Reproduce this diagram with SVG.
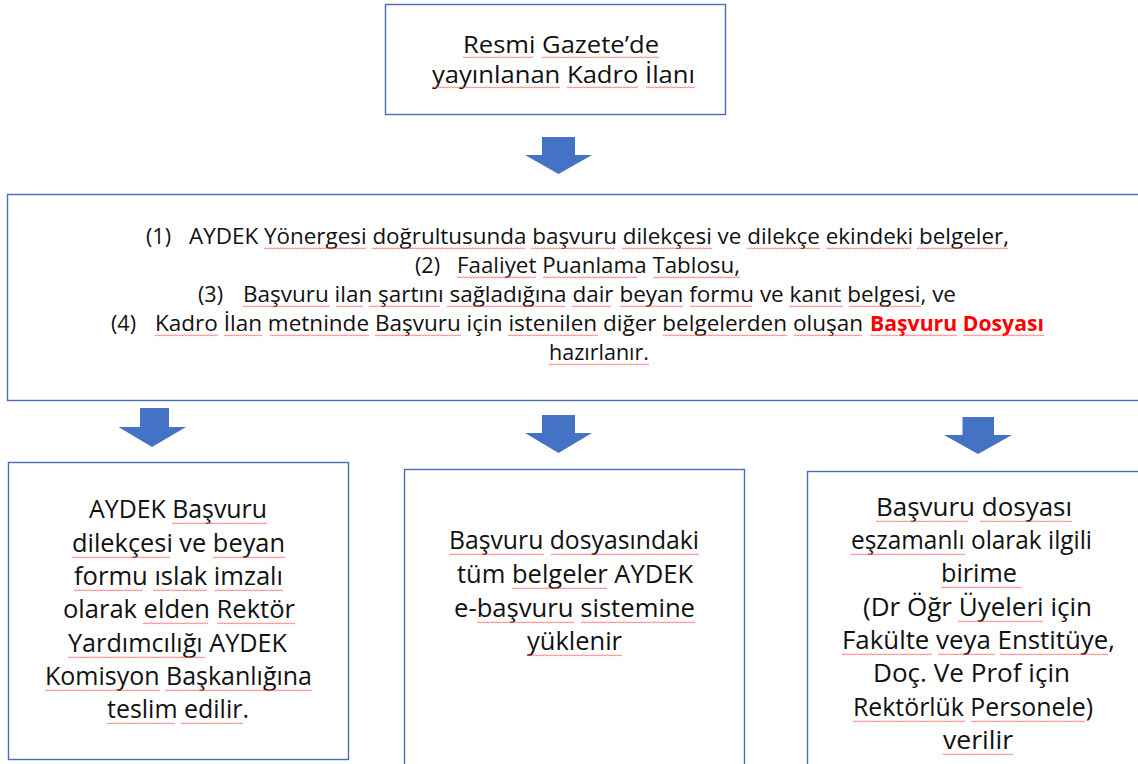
<svg xmlns="http://www.w3.org/2000/svg" width="1138" height="764" viewBox="0 0 1138 764">
<style>
.box{fill:#fff;stroke:#4a6db5;stroke-width:1.4}
.arr{fill:#4472c4}
text{font-family:"Open Sans","Noto Sans","Liberation Sans",sans-serif;fill:#111}
.m{font-size:21.5px}
.b{font-size:26px}
.t{font-size:24px}
.red{fill:#f00;font-weight:bold}
.sq rect{fill:url(#wave);height:3px}
</style>
<defs>
<pattern id="wave" width="3" height="3" patternUnits="userSpaceOnUse">
<path d="M0 2.3L1.5 0.7L3 2.3" fill="none" stroke="#ff5a5a" stroke-width="0.9"/>
</pattern>
</defs>
<rect width="1138" height="764" fill="#fff"/>
<g id="connectors">
<path class="arr" d="M542 137H575V155H592L558.5 174L525 155H542Z"/>
<path class="arr" d="M140 408H169V427H186L152 447L118.5 427H140Z"/>
<path class="arr" d="M542 415H575V433H592L558.5 453L525 433H542Z"/>
<path class="arr" d="M962.5 417H994V435H1012L978 454L944 435H962.5Z"/>
</g>
<g id="node-top">
<rect class="box" x="385.5" y="4.5" width="340" height="110"/>
<text class="t" x="463" y="53" textLength="196" lengthAdjust="spacingAndGlyphs">Resmi Gazete’de</text>
<text class="t" x="432" y="83" textLength="263" lengthAdjust="spacingAndGlyphs">yayınlanan Kadro İlanı</text>
<g class="sq" transform="translate(0,56)"><rect x="463" width="70"/><rect x="542" width="117"/></g>
<g class="sq" transform="translate(0,86)"><rect x="432" width="128"/><rect x="567" width="71"/><rect x="646" width="49"/></g>
</g>
<g id="node-main">
<rect class="box" x="7.5" y="194.5" width="1140" height="206"/>
<text class="m" x="146" y="244">(1)</text>
<text class="m" x="189" y="244" textLength="820" lengthAdjust="spacingAndGlyphs">AYDEK Yönergesi doğrultusunda başvuru dilekçesi ve dilekçe ekindeki belgeler,</text>
<text class="m" x="415" y="273">(2)</text>
<text class="m" x="457" y="273" textLength="283" lengthAdjust="spacingAndGlyphs">Faaliyet Puanlama Tablosu,</text>
<text class="m" x="198" y="302">(3)</text>
<text class="m" x="243" y="302" textLength="713" lengthAdjust="spacingAndGlyphs">Başvuru ilan şartını sağladığına dair beyan formu ve kanıt belgesi, ve</text>
<text class="m" x="111" y="331">(4)</text>
<text class="m" x="155" y="331" textLength="708" lengthAdjust="spacingAndGlyphs">Kadro İlan metninde Başvuru için istenilen diğer belgelerden oluşan</text>
<text class="m red" x="870" y="331" textLength="174" lengthAdjust="spacingAndGlyphs">Başvuru Dosyası</text>
<text class="m" x="549" y="360" textLength="100" lengthAdjust="spacingAndGlyphs">hazırlanır.</text>
<g class="sq" transform="translate(0,247)"><rect x="264" width="102"/><rect x="372" width="153"/><rect x="531" width="84"/><rect x="622" width="90"/><rect x="747" width="73"/><rect x="826" width="85"/><rect x="917" width="91"/></g>
<g class="sq" transform="translate(0,276)"><rect x="457" width="79"/><rect x="543" width="94"/><rect x="653" width="87"/></g>
<g class="sq" transform="translate(0,305)"><rect x="243" width="87"/><rect x="336" width="27"/><rect x="369" width="71"/><rect x="447" width="118"/><rect x="572" width="39"/><rect x="620" width="63"/><rect x="690" width="62"/><rect x="789" width="54"/><rect x="849" width="72"/></g>
<g class="sq" transform="translate(0,334)"><rect x="155" width="63"/><rect x="224" width="38"/><rect x="270" width="99"/><rect x="375" width="86"/><rect x="508" width="90"/><rect x="663" width="124"/><rect x="794" width="68"/><rect x="870" width="87"/><rect x="963" width="81"/></g>
<g class="sq" transform="translate(0,363)"><rect x="549" width="100"/></g>
</g>
<g id="node-left">
<rect class="box" x="8.5" y="462.5" width="340" height="297"/>
<text class="b" x="89" y="518" textLength="178" lengthAdjust="spacingAndGlyphs">AYDEK Başvuru</text>
<text class="b" x="72" y="552" textLength="213" lengthAdjust="spacingAndGlyphs">dilekçesi ve beyan</text>
<text class="b" x="74" y="585" textLength="209" lengthAdjust="spacingAndGlyphs">formu ıslak imzalı</text>
<text class="b" x="63" y="618" textLength="232" lengthAdjust="spacingAndGlyphs">olarak elden Rektör</text>
<text class="b" x="68" y="652" textLength="219" lengthAdjust="spacingAndGlyphs">Yardımcılığı AYDEK</text>
<text class="b" x="45" y="685" textLength="267" lengthAdjust="spacingAndGlyphs">Komisyon Başkanlığına</text>
<text class="b" x="107" y="718" textLength="142" lengthAdjust="spacingAndGlyphs">teslim edilir.</text>
<g class="sq" transform="translate(0,522)"><rect x="172" width="95"/></g>
<g class="sq" transform="translate(0,556)"><rect x="72" width="98"/><rect x="213" width="72"/></g>
<g class="sq" transform="translate(0,589)"><rect x="74" width="69"/><rect x="153" width="54"/><rect x="215" width="68"/></g>
<g class="sq" transform="translate(0,622)"><rect x="143" width="65"/><rect x="217" width="78"/></g>
<g class="sq" transform="translate(0,656)"><rect x="68" width="137"/></g>
<g class="sq" transform="translate(0,689)"><rect x="45" width="115"/><rect x="165" width="147"/></g>
<g class="sq" transform="translate(0,722)"><rect x="107" width="68"/><rect x="181" width="62"/></g>
</g>
<g id="node-middle">
<rect class="box" x="404.5" y="469.5" width="340" height="310"/>
<text class="b" x="449" y="549" textLength="250" lengthAdjust="spacingAndGlyphs">Başvuru dosyasındaki</text>
<text class="b" x="457" y="583" textLength="236" lengthAdjust="spacingAndGlyphs">tüm belgeler AYDEK</text>
<text class="b" x="454" y="617" textLength="241" lengthAdjust="spacingAndGlyphs">e-başvuru sistemine</text>
<text class="b" x="527" y="650" textLength="95" lengthAdjust="spacingAndGlyphs">yüklenir</text>
<g class="sq" transform="translate(0,553)"><rect x="449" width="95"/><rect x="551" width="148"/></g>
<g class="sq" transform="translate(0,587)"><rect x="512" width="95"/></g>
<g class="sq" transform="translate(0,621)"><rect x="477" width="97"/><rect x="581" width="114"/></g>
<g class="sq" transform="translate(0,654)"><rect x="527" width="95"/></g>
</g>
<g id="node-right">
<rect class="box" x="807.5" y="471.5" width="340" height="310"/>
<text class="b" x="876" y="516" textLength="196" lengthAdjust="spacingAndGlyphs">Başvuru dosyası</text>
<text class="b" x="851" y="549" textLength="241" lengthAdjust="spacingAndGlyphs">eşzamanlı olarak ilgili</text>
<text class="b" x="941" y="582" textLength="76" lengthAdjust="spacingAndGlyphs">birime</text>
<text class="b" x="863" y="616" textLength="229" lengthAdjust="spacingAndGlyphs">(Dr Öğr Üyeleri için</text>
<text class="b" x="842" y="649" textLength="273" lengthAdjust="spacingAndGlyphs">Fakülte veya Enstitüye,</text>
<text class="b" x="873" y="682" textLength="197" lengthAdjust="spacingAndGlyphs">Doç. Ve Prof için</text>
<text class="b" x="853" y="716" textLength="240" lengthAdjust="spacingAndGlyphs">Rektörlük Personele)</text>
<text class="b" x="943" y="749" textLength="70" lengthAdjust="spacingAndGlyphs">verilir</text>
<g class="sq" transform="translate(0,520)"><rect x="876" width="92"/><rect x="980" width="92"/></g>
<g class="sq" transform="translate(0,553)"><rect x="851" width="114"/></g>
<g class="sq" transform="translate(0,586)"><rect x="941" width="80"/></g>
<g class="sq" transform="translate(0,620)"><rect x="958" width="85"/></g>
<g class="sq" transform="translate(0,653)"><rect x="842" width="90"/><rect x="938" width="57"/><rect x="1000" width="108"/></g>
<g class="sq" transform="translate(0,720)"><rect x="853" width="112"/><rect x="971" width="114"/></g>
<g class="sq" transform="translate(0,753)"><rect x="943" width="70"/></g>
</g>
</svg>
